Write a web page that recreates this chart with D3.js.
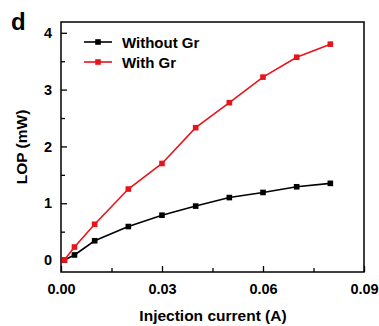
<!DOCTYPE html>
<html lang="en">
<head>
    <meta charset="UTF-8">
    <title>LOP vs injection current</title>
    <script src="https://cdn.jsdelivr.net/npm/d3@7"></script>
    <style>
        body { margin: 0; background: #fff; }
        svg { display: block; font-family: 'Liberation Sans', Arial, sans-serif; font-weight: bold; }
    </style>
</head>
<body>
    <svg id="chart" width="379" height="326"></svg>
    <script>
        // data
        const current = [0.001, 0.004, 0.01, 0.02, 0.03, 0.04, 0.05, 0.06, 0.07, 0.08];
        const withoutGr = [0, 0.09, 0.34, 0.59, 0.79, 0.95, 1.10, 1.19, 1.29, 1.35];
        const withGr = [0, 0.23, 0.63, 1.25, 1.70, 2.33, 2.77, 3.22, 3.57, 3.80];
        const xTicks = [0, 0.03, 0.06, 0.09];
        const yTicks = [0, 1, 2, 3, 4];
        const seriesNames = ["Without Gr", "With Gr"];
        const seriesColors = ["#000000", "#e8141c"];

        const plotL = 61, plotR = 364, plotT = 22, plotB = 272;
        const svg = d3.select("#chart");

        const x = d3.scaleLinear().domain([0, 0.09]).range([plotL, plotR]);
        const y = d3.scaleLinear().domain([-0.21, 4.19]).range([plotB, plotT]);

        // frame
        svg.append("rect")
            .attr("x", plotL).attr("y", plotT)
            .attr("width", plotR - plotL).attr("height", plotB - plotT)
            .attr("fill", "none").attr("stroke", "#000").attr("stroke-width", 1.5);

        // axes, ticks point inward
        svg.append("g")
            .attr("transform", `translate(0,${plotB})`)
            .call(d3.axisBottom(x).tickValues(xTicks).tickFormat(d3.format(".2f")).tickSize(-6).tickPadding(12));
        svg.append("g")
            .attr("transform", `translate(0,${plotB})`)
            .call(d3.axisBottom(x).tickValues([0.015, 0.045, 0.075]).tickFormat("").tickSize(-4));
        svg.append("g")
            .attr("transform", `translate(${plotL},0)`)
            .call(d3.axisLeft(y).tickValues(yTicks).tickFormat(d3.format("d")).tickSize(-6).tickPadding(9));
        svg.append("g")
            .attr("transform", `translate(${plotL},0)`)
            .call(d3.axisLeft(y).tickValues([0.5, 1.5, 2.5, 3.5]).tickFormat("").tickSize(-4));

        svg.selectAll(".domain").remove();
        svg.selectAll(".tick line").attr("stroke", "#000").attr("stroke-width", 1.3);
        svg.selectAll(".tick text")
            .attr("fill", "#000")
            .style("font-size", "14.5px")
            .style("font-weight", "bold")
            .style("font-family", "'Liberation Sans', Arial, sans-serif");

        // series
        const line = d3.line().x((d, i) => x(current[i])).y(d => y(d));
        [withoutGr, withGr].forEach((vals, k) => {
            svg.append("path")
                .datum(vals)
                .attr("d", line)
                .attr("fill", "none")
                .attr("stroke", seriesColors[k])
                .attr("stroke-width", 1.6);
            svg.selectAll(null)
                .data(vals)
                .enter().append("rect")
                .attr("x", (d, i) => x(current[i]) - 2.8)
                .attr("y", d => y(d) - 2.8)
                .attr("width", 5.6).attr("height", 5.6)
                .attr("fill", seriesColors[k]);
        });

        // legend
        seriesNames.forEach((name, k) => {
            const ly = 42 + k * 20;
            svg.append("line")
                .attr("x1", 84).attr("x2", 112)
                .attr("y1", ly).attr("y2", ly)
                .attr("stroke", seriesColors[k]).attr("stroke-width", 1.6);
            svg.append("rect")
                .attr("x", 98 - 2.8).attr("y", ly - 2.8)
                .attr("width", 5.6).attr("height", 5.6)
                .attr("fill", seriesColors[k]);
            svg.append("text")
                .attr("x", 122).attr("y", ly + 5.5)
                .style("font-size", "15px")
                .text(name);
        });

        // titles
        svg.append("text")
            .attr("x", 213).attr("y", 321)
            .attr("text-anchor", "middle")
            .style("font-size", "15.5px")
            .text("Injection current (A)");
        svg.append("text")
            .attr("transform", "translate(27,147) rotate(-90)")
            .attr("text-anchor", "middle")
            .style("font-size", "15.5px")
            .text("LOP (mW)");
        svg.append("text")
            .attr("x", 11).attr("y", 30)
            .style("font-size", "24px")
            .text("d");
    </script>
</body>
</html>
